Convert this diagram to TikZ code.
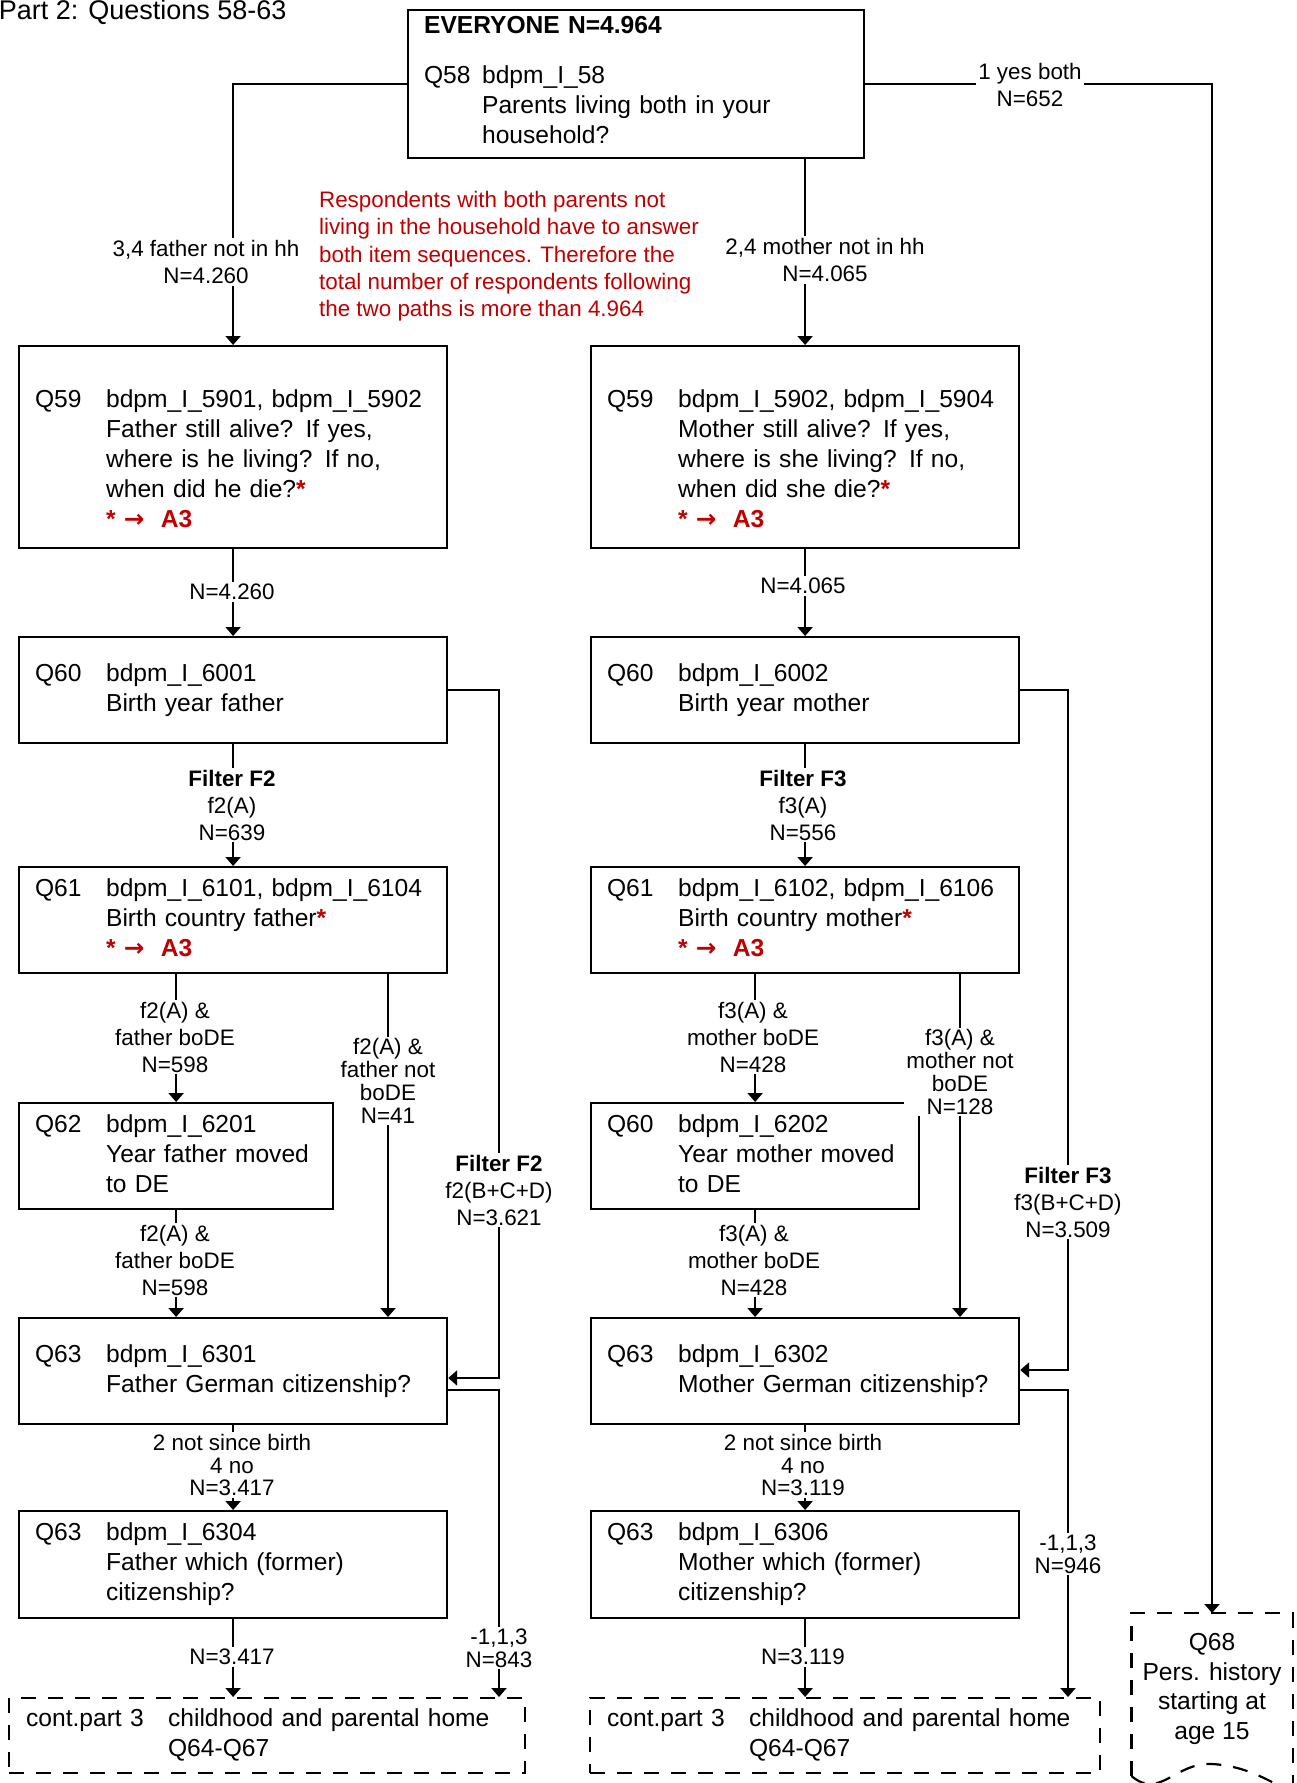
\documentclass[tikz,border=0pt]{standalone}
\usepackage{fontspec}
\setmainfont{Liberation Sans}
\newfontfamily\arrowfont{DejaVu Sans}
\usepackage{tikz}
\usetikzlibrary{positioning,arrows.meta,calc}
\definecolor{NoteRed}{RGB}{192,0,0}
\newcommand{\qtab}[3][35.5pt]{\begin{tabular}[t]{@{}p{#1}@{}l@{}}#2&\begin{tabular}[t]{@{}l@{}}#3\end{tabular}\end{tabular}}
\newcommand{\rstar}{\textcolor{NoteRed}{\bfseries *}}
\newcommand{\seeA}{\textcolor{NoteRed}{\bfseries *\ {\arrowfont\bfseries →}\ \ A3}}

\begin{document}
\begin{tikzpicture}[x=0.5pt,y=-0.5pt,line width=1.1pt,
  qbox/.style={draw,anchor=north west,inner xsep=8pt,inner ysep=0pt,align=left,text width=198pt,minimum height=53pt,font=\fontsize{12.3}{15}\selectfont},
  dbox/.style={draw,dash pattern=on 7.5pt off 6pt,anchor=north west,inner xsep=8.5pt,inner ysep=0pt,align=left,minimum height=37.5pt,font=\fontsize{12.3}{15}\selectfont},
  lbl/.style={fill=white,align=center,inner sep=1pt,font=\fontsize{11.2}{13.5}\selectfont},
  tight/.style={font=\fontsize{11.2}{11.4}\selectfont},
  arr/.style={-{Triangle[width=7.5pt,length=4.5pt]}}]
\useasboundingbox (0,0) rectangle (1296,1783);

\node[anchor=base west,font=\fontsize{13.5}{16}\selectfont] (title) at (-9,19) {Part 2: Questions 58-63};

% top question
\node[qbox,text width=212pt,minimum height=74pt] (q58) at (407,9) {\textbf{EVERYONE N=4.964}\\[10pt]\qtab[29pt]{Q58}{bdpm\_I\_58\\Parents living both in your\\household?}};
\node[anchor=north west,align=left,inner sep=0pt,text=NoteRed,font=\fontsize{11.2}{13.7}\selectfont] (note) at (318,190) {Respondents with both parents not\\living in the household have to answer\\both item sequences. Therefore the\\total number of respondents following\\the two paths is more than 4.964};

% father column
\node[qbox,minimum height=101pt] (q59f) at (18,345) {\qtab{\rule{0pt}{24.5pt}Q59}{bdpm\_I\_5901, bdpm\_I\_5902\\Father still alive? If yes,\\where is he living? If no,\\when did he die?\rstar\\\seeA}};
\node[qbox] (q60f) at (18,636) {\qtab{Q60}{bdpm\_I\_6001\\Birth year father}};
\node[qbox] (q61f) at (18,866) {\qtab{Q61}{bdpm\_I\_6101, bdpm\_I\_6104\\Birth country father\rstar\\\seeA}};
\node[qbox,text width=141pt] (q62f) at (18,1102) {\qtab{Q62}{bdpm\_I\_6201\\Year father moved\\to DE}};
\node[qbox] (q63f) at (18,1317) {\qtab{Q63}{bdpm\_I\_6301\\Father German citizenship?}};
\node[qbox,minimum height=53.5pt] (q64f) at (18,1510) {\qtab{Q63}{bdpm\_I\_6304\\Father which (former)\\citizenship?}};
\node[dbox,text width=241pt] (contf) at (8,1697) {\qtab[71pt]{cont.part 3}{childhood and parental home\\Q64-Q67}};

% mother column
\node[qbox,minimum height=101pt] (q59m) at (590,345) {\qtab{\rule{0pt}{24.5pt}Q59}{bdpm\_I\_5902, bdpm\_I\_5904\\Mother still alive? If yes,\\where is she living? If no,\\when did she die?\rstar\\\seeA}};
\node[qbox] (q60m) at (590,636) {\qtab{Q60}{bdpm\_I\_6002\\Birth year mother}};
\node[qbox] (q61m) at (590,866) {\qtab{Q61}{bdpm\_I\_6102, bdpm\_I\_6106\\Birth country mother\rstar\\\seeA}};
\node[qbox,text width=148pt] (q62m) at (590,1102) {\qtab{Q60}{bdpm\_I\_6202\\Year mother moved\\to DE}};
\node[qbox] (q63m) at (590,1317) {\qtab{Q63}{bdpm\_I\_6302\\Mother German citizenship?}};
\node[qbox,minimum height=53.5pt] (q64m) at (590,1510) {\qtab{Q63}{bdpm\_I\_6306\\Mother which (former)\\citizenship?}};
\node[dbox,text width=238pt] (contm) at (589,1697) {\qtab[71pt]{cont.part 3}{childhood and parental home\\Q64-Q67}};

% person history
\node[anchor=north,minimum width=79.5pt,minimum height=75pt,inner sep=0pt,align=center,font=\fontsize{12.3}{14.8}\selectfont] (q68) at (1212,1613) {Q68\\Pers. history\\starting at\\age 15};
\draw[dash pattern=on 7.5pt off 6pt] (q68.north west |- 0,1776) -- (q68.north west) -- (q68.north east) -- (q68.north east |- 0,1790);
\draw[dash pattern=on 7.5pt off 6pt] (q68.north west |- 0,1776) .. controls (1160,1800) and (1175,1762) .. (1212,1764) .. controls (1250,1766) and (1275,1785) .. (1292,1792);

% helper coordinates
\coordinate (fltf) at (499,1378);
\coordinate (fltm) at (1068,1370);
\coordinate (nbf) at (388,0);
\coordinate (nbm) at (960,0);

% connectors
\draw[arr] (q58.west) -| (q59f.north);
\draw[arr] (q59m.north |- q58.south) -- (q59m.north);
\draw[arr] (q58.east) -| (q68.north);
\draw[arr] (q59f) -- (q60f);
\draw[arr] (q59m) -- (q60m);
\draw[arr] (q60f) -- (q61f);
\draw[arr] (q60m) -- (q61m);
\draw[arr] (q60f.east) -| (fltf) -- (fltf -| q63f.east);
\draw[arr] (q60m.east) -| (fltm) -- (fltm -| q63m.east);
\draw[arr] (q62f.north |- q61f.south) -- (q62f.north);
\draw[arr] (q62m.north |- q61m.south) -- (q62m.north);
\draw[arr] (q61f.south -| nbf) -- (q63f.north -| nbf);
\draw[arr] (q61m.south -| nbm) -- (q63m.north -| nbm);
\draw[arr] (q62f.south) -- (q63f.north -| q62f.south);
\draw[arr] (q62m.south) -- (q63m.north -| q62m.south);
\draw[arr] (q63f) -- (q64f);
\draw[arr] (q63m) -- (q64m);
\draw[arr] (q64f) -- (q64f.south |- contf.north);
\draw[arr] (q64m) -- (q64m.south |- contm.north);
\draw[arr] (q63f.east |- 0,1390) -| (contf.north -| fltf);
\draw[arr] (q63m.east |- 0,1390) -| (contm.north -| fltm);

% connector labels
\node[lbl] (l58f) at (206,262) {3,4 father not in hh\\N=4.260};
\node[lbl] (l58m) at (825,260) {2,4 mother not in hh\\N=4.065};
\node[lbl] (l58y) at (1030,85) {1 yes both\\N=652};
\node[lbl] (l59f) at (232,592) {N=4.260};
\node[lbl] (l59m) at (803,586) {N=4.065};
\node[lbl] (l60f) at (232,805) {\textbf{Filter F2}\\f2(A)\\N=639};
\node[lbl] (l60m) at (803,805) {\textbf{Filter F3}\\f3(A)\\N=556};
\node[lbl] (l61f) at (175,1037) {f2(A) \&\\father boDE\\N=598};
\node[lbl] (l61m) at (753,1037) {f3(A) \&\\mother boDE\\N=428};
\node[lbl,tight] (l61fn) at (388,1081) {f2(A) \&\\father not\\boDE\\N=41};
\node[lbl,tight] (l61mn) at (960,1072) {f3(A) \&\\mother not\\boDE\\N=128};
\node[lbl] (lbf) at (499,1190) {\textbf{Filter F2}\\f2(B+C+D)\\N=3.621};
\node[lbl] (lbm) at (1068,1202) {\textbf{Filter F3}\\f3(B+C+D)\\N=3.509};
\node[lbl] (l62f) at (175,1260) {f2(A) \&\\father boDE\\N=598};
\node[lbl] (l62m) at (754,1260) {f3(A) \&\\mother boDE\\N=428};
\node[lbl,tight] (l63f) at (232,1465) {2 not since birth\\4 no\\N=3.417};
\node[lbl,tight] (l63m) at (803,1465) {2 not since birth\\4 no\\N=3.119};
\node[lbl] (l64f) at (232,1657) {N=3.417};
\node[lbl] (l64m) at (803,1657) {N=3.119};
\node[lbl,tight] (l63fo) at (499,1648) {-1,1,3\\N=843};
\node[lbl,tight] (l63mo) at (1068,1554) {-1,1,3\\N=946};
\end{tikzpicture}
\end{document}
